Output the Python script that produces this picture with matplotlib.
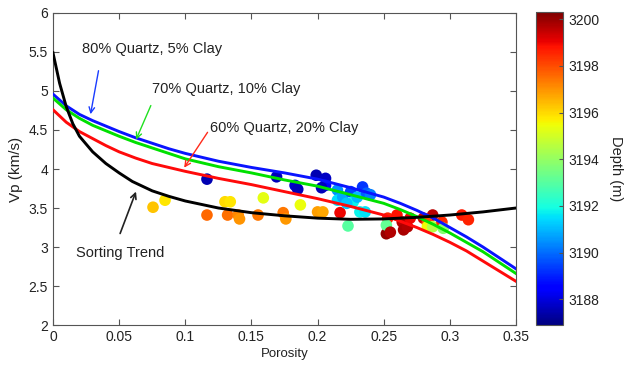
import matplotlib

matplotlib.use("Agg")

import matplotlib.pyplot as plt
import numpy as np

plt.rcParams["font.family"] = ["Liberation Sans", "DejaVu Sans"]

# rock-physics model curves, Vp (km/s) against porosity
phi_model = [0.0, 0.01, 0.02, 0.03, 0.04, 0.05, 0.0625, 0.075, 0.0875, 0.1,
             0.125, 0.15, 0.175, 0.2, 0.225, 0.25, 0.2625, 0.275, 0.2875,
             0.3, 0.3125, 0.325, 0.3375, 0.35]
vp_q80 = [4.96, 4.81, 4.70, 4.62, 4.55, 4.48, 4.40, 4.33, 4.26, 4.20,
          4.10, 4.02, 3.95, 3.87, 3.76, 3.64, 3.56, 3.47, 3.37,
          3.25, 3.13, 3.00, 2.86, 2.72]
vp_q70 = [4.91, 4.76, 4.65, 4.56, 4.49, 4.42, 4.34, 4.27, 4.20, 4.13,
          4.03, 3.95, 3.86, 3.78, 3.67, 3.56, 3.48, 3.39, 3.29,
          3.18, 3.06, 2.94, 2.80, 2.66]
vp_q60 = [4.76, 4.60, 4.48, 4.39, 4.30, 4.22, 4.14, 4.07, 4.02, 3.97,
          3.88, 3.80, 3.71, 3.62, 3.52, 3.41, 3.33, 3.25, 3.16,
          3.06, 2.95, 2.82, 2.69, 2.56]

phi_sort = [0.0, 0.005, 0.01, 0.015, 0.02, 0.03, 0.04, 0.05, 0.06, 0.075,
            0.0875, 0.1, 0.125, 0.15, 0.175, 0.2, 0.225, 0.25, 0.275, 0.3,
            0.325, 0.35]
vp_sort = [5.49, 5.10, 4.80, 4.58, 4.42, 4.22, 4.07, 3.95, 3.84, 3.72,
           3.65, 3.59, 3.50, 3.44, 3.40, 3.37, 3.355, 3.36, 3.38, 3.41,
           3.45, 3.50]

# well log samples
phi_log = [0.0756, 0.0847, 0.1164, 0.1164, 0.130, 0.134, 0.132, 0.140, 0.141,
           0.155, 0.159, 0.169, 0.174, 0.176, 0.183, 0.185, 0.187, 0.199,
           0.206, 0.206, 0.200, 0.204, 0.203, 0.217, 0.215, 0.215, 0.219,
           0.223, 0.225, 0.227, 0.230, 0.234, 0.237, 0.240, 0.232, 0.236,
           0.222, 0.253, 0.252, 0.252, 0.260, 0.264, 0.265, 0.268, 0.270,
           0.280, 0.287, 0.283, 0.283, 0.287, 0.294, 0.295, 0.309, 0.314,
           0.255]
vp_log = [3.51, 3.60, 3.87, 3.41, 3.58, 3.58, 3.41, 3.41, 3.36,
          3.41, 3.63, 3.90, 3.44, 3.36, 3.79, 3.74, 3.54, 3.92,
          3.88, 3.79, 3.45, 3.45, 3.76, 3.44, 3.73, 3.60, 3.64,
          3.27, 3.71, 3.58, 3.64, 3.77, 3.69, 3.67, 3.45, 3.45,
          3.56, 3.37, 3.17, 3.28, 3.41, 3.32, 3.22, 3.26, 3.37,
          3.37, 3.41, 3.31, 3.26, 3.26, 3.32, 3.24, 3.41, 3.35,
          3.19]
depth_log = [3196.3, 3195.8, 3187.5, 3197.6, 3196.0, 3195.8, 3197.5, 3197.2, 3197.0,
             3197.4, 3195.3, 3187.6, 3197.4, 3196.9, 3187.8, 3187.6, 3195.4, 3187.5,
             3187.7, 3188.5, 3196.8, 3196.7, 3187.6, 3199.0, 3190.5, 3191.5, 3190.8,
             3193.0, 3189.5, 3191.8, 3191.0, 3189.3, 3189.8, 3190.2, 3191.8, 3191.6,
             3191.2, 3198.6, 3200.0, 3193.2, 3198.8, 3199.6, 3199.8, 3199.7, 3199.0,
             3199.4, 3199.6, 3198.0, 3195.5, 3194.5, 3198.5, 3193.8, 3198.7, 3198.6,
             3199.7]

fig = plt.figure(figsize=(6.27, 3.69), dpi=100)
ax = fig.add_axes([0.0845, 0.1192, 0.7385, 0.8456])
cax = fig.add_axes([0.855, 0.119, 0.043, 0.848])

sc = ax.scatter(phi_log, vp_log, c=depth_log, cmap="jet", vmin=3186.9, vmax=3200.3,
                s=70, edgecolors="none", zorder=2)

ax.plot(phi_model, vp_q80, color="#0a14ff", lw=2.1, zorder=3)
ax.plot(phi_model, vp_q70, color="#00e000", lw=2.1, zorder=3)
ax.plot(phi_model, vp_q60, color="#ff0a0a", lw=2.1, zorder=3)
ax.plot(phi_sort, vp_sort, color="black", lw=2.1, zorder=3)

label_kw = dict(fontsize=10.5, color="#222222", ha="left", va="center")
ax.annotate("", xy=(0.028, 4.667), xytext=(0.0348, 5.295),
            arrowprops=dict(arrowstyle="->", color="#1a3cff", lw=1.0))
ax.annotate("", xy=(0.062, 4.346), xytext=(0.0748, 4.846),
            arrowprops=dict(arrowstyle="->", color="#20e020", lw=1.0))
ax.annotate("", xy=(0.098, 3.987), xytext=(0.118, 4.50),
            arrowprops=dict(arrowstyle="->", color="#ff2a1a", lw=1.0))
ax.annotate("", xy=(0.0635, 3.744), xytext=(0.050, 3.14),
            arrowprops=dict(arrowstyle="->", color="#222222", lw=1.2))
ax.text(0.0222, 5.54, "80% Quartz, 5% Clay", **label_kw)
ax.text(0.0745, 5.03, "70% Quartz, 10% Clay", **label_kw)
ax.text(0.1185, 4.52, "60% Quartz, 20% Clay", **label_kw)
ax.text(0.0175, 2.92, "Sorting Trend", **label_kw)

ax.set_xlim(0, 0.35)
ax.set_ylim(2, 6)
ax.set_xticks(np.arange(0, 0.351, 0.05))
ax.set_xticklabels(["0", "0.05", "0.1", "0.15", "0.2", "0.25", "0.3", "0.35"])
ax.set_yticks(np.arange(2, 6.01, 0.5))
ax.set_yticklabels(["2", "2.5", "3", "3.5", "4", "4.5", "5", "5.5", "6"])
ax.tick_params(direction="in", top=True, right=True, length=4, width=0.8,
               labelsize=10, colors="#555555", labelcolor="#222222")
for sp in ax.spines.values():
    sp.set_color("#555555")
    sp.set_linewidth(0.8)
ax.set_xlabel("Porosity", fontsize=9.5, color="#222222", labelpad=3)
ax.set_ylabel("Vp (km/s)", fontsize=11, color="#222222", labelpad=4)

cb = fig.colorbar(sc, cax=cax)
cb.set_ticks([3188, 3190, 3192, 3194, 3196, 3198, 3200])
cb.ax.tick_params(direction="in", length=3, width=0.8, labelsize=10,
                  colors="#555555", labelcolor="#222222")
cb.outline.set_edgecolor("#555555")
cb.outline.set_linewidth(0.8)
cb.set_label("Depth (m)", fontsize=10.5, color="#222222", rotation=270, labelpad=17)

fig.savefig("out.png", dpi=100)
plt.close(fig)
